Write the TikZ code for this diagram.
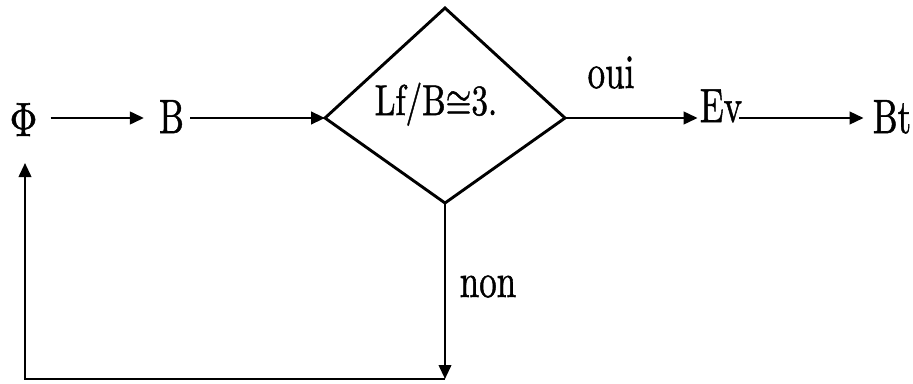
\documentclass[tikz,border=0pt]{standalone}
\usepackage{graphicx}
\usepackage{fontspec}
\newfontfamily\lbf{lmroman10-regular.otf}[FakeBold=1.2]
\newfontfamily\lmm{Latin Modern Math}[FakeBold=1.2]
\usetikzlibrary{arrows.meta}
\newcommand\cnd[2][0.75]{\scalebox{#1}[1]{#2}}
\begin{document}
\begin{tikzpicture}[x=1pt,y=-1pt,
  lbl/.style={inner sep=0pt, anchor=base, font=\lbf\fontsize{48}{50}\selectfont},
  inlbl/.style={inner sep=0pt, anchor=base, font=\lbf\fontsize{43}{46}\selectfont},
  arr/.style={line width=2.6pt, -{Triangle[length=14pt,width=12.5pt]}},
  decision/.style={line width=2.9pt, line join=miter}]
\useasboundingbox (0,0) rectangle (913,383);
% labels
\node[lbl] (phi) at (23.5,136) {\cnd[0.8]{\lmm Φ}};
\node[lbl] (B) at (171.5,133) {\cnd[0.73]{B}};
\node[inlbl] (test) at (436,115) {\cnd[0.77]{Lf/B{\lmm ≅}3.}};
\node[lbl] (oui) at (611,88) {\cnd[0.73]{oui}};
\node[lbl] (Ev) at (721,122) {\cnd[0.73]{Ev}};
\node[lbl] (Bt) at (892,133) {\cnd[0.73]{Bt}};
\node[lbl] (non) at (488,297) {\cnd[0.73]{non}};
% diamond
\coordinate (dL) at (325,118);
\coordinate (dT) at (445,8);
\coordinate (dR) at (565,118);
\coordinate (dB) at (445,203);
\draw[decision] (dL) -- (dT) -- (dR) -- (dB) -- cycle;
% loop corners
\coordinate (cB) at (445,379);
\coordinate (cL) at (25,379);
\coordinate (up) at (25,163);
% connectors
\draw[arr] ([xshift=13pt]phi.east |- dL) -- ([xshift=-15pt]B.west |- dL);
\draw[arr] ([xshift=6pt]B.east |- dL) -- (dL);
\draw[arr] (dR) -- ([xshift=-2pt]Ev.west |- dR);
\draw[arr] ([xshift=-3pt]Ev.east |- dR) -- ([xshift=-9pt]Bt.west |- dR);
\draw[arr, line width=2.3pt] (dB) -- (cB);
\draw[arr, line width=2.3pt] (cB) -- (cL) -- (up);
\end{tikzpicture}
\end{document}
